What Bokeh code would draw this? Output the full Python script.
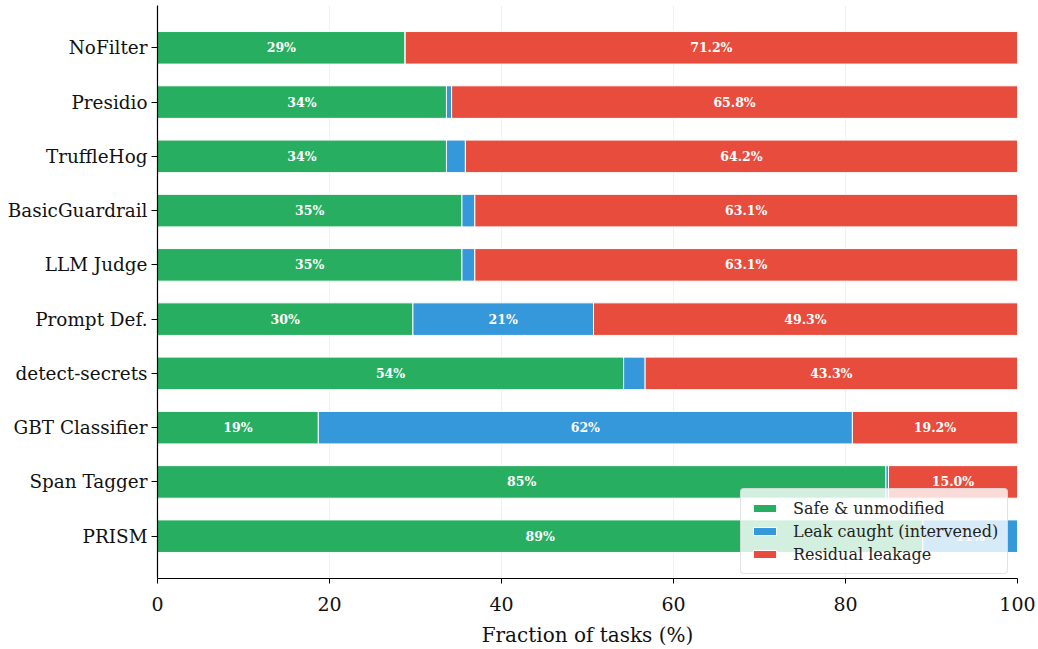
import numpy as np
from bokeh.plotting import figure
from bokeh.models import ColumnDataSource, Range1d, FixedTicker, Legend, LegendItem
from bokeh.core.properties import value
from bokeh.embed import file_html
from bokeh.resources import INLINE

methods = ["NoFilter", "Presidio", "TruffleHog", "BasicGuardrail", "LLM Judge",
           "Prompt Def.", "detect-secrets", "GBT Classifier", "Span Tagger", "PRISM"]
safe = [28.8, 33.6, 33.6, 35.4, 35.4, 29.7, 54.2, 18.7, 84.7, 89.0]
caught = [0.0, 0.6, 2.2, 1.5, 1.5, 21.0, 2.5, 62.1, 0.3, 11.0]
residual = [71.2, 65.8, 64.2, 63.1, 63.1, 49.3, 43.3, 19.2, 15.0, 0.0]
series_names = ["Safe & unmodified", "Leak caught (intervened)", "Residual leakage"]
colors = ["#27ae60", "#3498db", "#e74c3c"]
xticks = [0, 20, 40, 60, 80, 100]

FONT = "DejaVu Serif"
n = len(methods)
ypos = np.arange(n)[::-1].astype(float)

p = figure(width=1038, height=649, output_backend="svg", toolbar_location=None,
           x_range=Range1d(0, 100), y_range=Range1d(-0.78, n - 1 + 0.78),
           min_border_left=157, min_border_right=21, min_border_top=5, min_border_bottom=71)
p.outline_line_color = None

vals = [np.array(safe), np.array(caught), np.array(residual)]
left = np.zeros(n)
renderers = []
label_x, label_y, label_t = [], [], []
for k, (v, c) in enumerate(zip(vals, colors)):
    right = left + v
    src = ColumnDataSource(dict(y=ypos, left=left, right=right))
    r = p.hbar(y="y", left="left", right="right", height=0.6, source=src,
               fill_color=c, line_color="white", line_width=1)
    renderers.append(r)
    for i in range(n):
        if v[i] >= 5:
            label_x.append((left[i] + right[i]) / 2)
            label_y.append(ypos[i])
            label_t.append(("%.1f%%" % v[i]) if k == 2 else ("%.0f%%" % v[i]))
    left = right

tsrc = ColumnDataSource(dict(x=label_x, y=label_y, t=label_t))
p.text(x="x", y="y", text="t", source=tsrc, text_color="white",
       text_font=value(FONT), text_font_style="bold", text_font_size="12.5px",
       text_align="center", text_baseline="middle")

legend = Legend(items=[LegendItem(label=nm, renderers=[r]) for nm, r in zip(series_names, renderers)],
                location=(583, 4))
legend.label_text_font = FONT
legend.label_text_font_size = "16px"
legend.label_text_color = "#222222"
legend.label_standoff = 14
legend.glyph_width = 29
legend.glyph_height = 10
legend.label_height = 20
legend.spacing = 3
legend.padding = 9
legend.margin = 0
legend.border_line_color = "#c8c8c8"
legend.border_line_width = 1.2
legend.background_fill_alpha = 0.8
if "border_radius" in Legend.properties():
    legend.border_radius = 4
p.add_layout(legend)

p.xaxis.ticker = FixedTicker(ticks=xticks)
p.yaxis.ticker = FixedTicker(ticks=list(ypos))
p.yaxis.major_label_overrides = {float(y): m for y, m in zip(ypos, methods)}
for ax in (p.xaxis, p.yaxis):
    ax.major_label_text_font = FONT
    ax.major_label_text_color = "#111111"
    ax.axis_line_color = "black"
    ax.axis_line_width = 1.2
    ax.major_tick_line_color = "black"
    ax.major_tick_in = 0
    ax.minor_tick_line_color = None
p.xaxis.major_tick_out = 5
p.yaxis.major_tick_out = 6
p.yaxis.major_label_standoff = 4
p.xaxis.major_label_standoff = 13
p.xaxis.major_label_text_font_size = "19px"
p.yaxis.major_label_text_font_size = "18.4px"
p.xaxis.axis_label = "Fraction of tasks (%)"
p.xaxis.axis_label_text_font = FONT
p.xaxis.axis_label_text_font_size = "20px"
p.xaxis.axis_label_text_font_style = "normal"
p.xaxis.axis_label_text_color = "#111111"
p.xaxis.axis_label_standoff = 9

p.xgrid.grid_line_color = "#e6e6e6"
p.xgrid.grid_line_alpha = 0.6
p.ygrid.grid_line_color = None

open("out.html", "w").write(file_html(p, INLINE))
